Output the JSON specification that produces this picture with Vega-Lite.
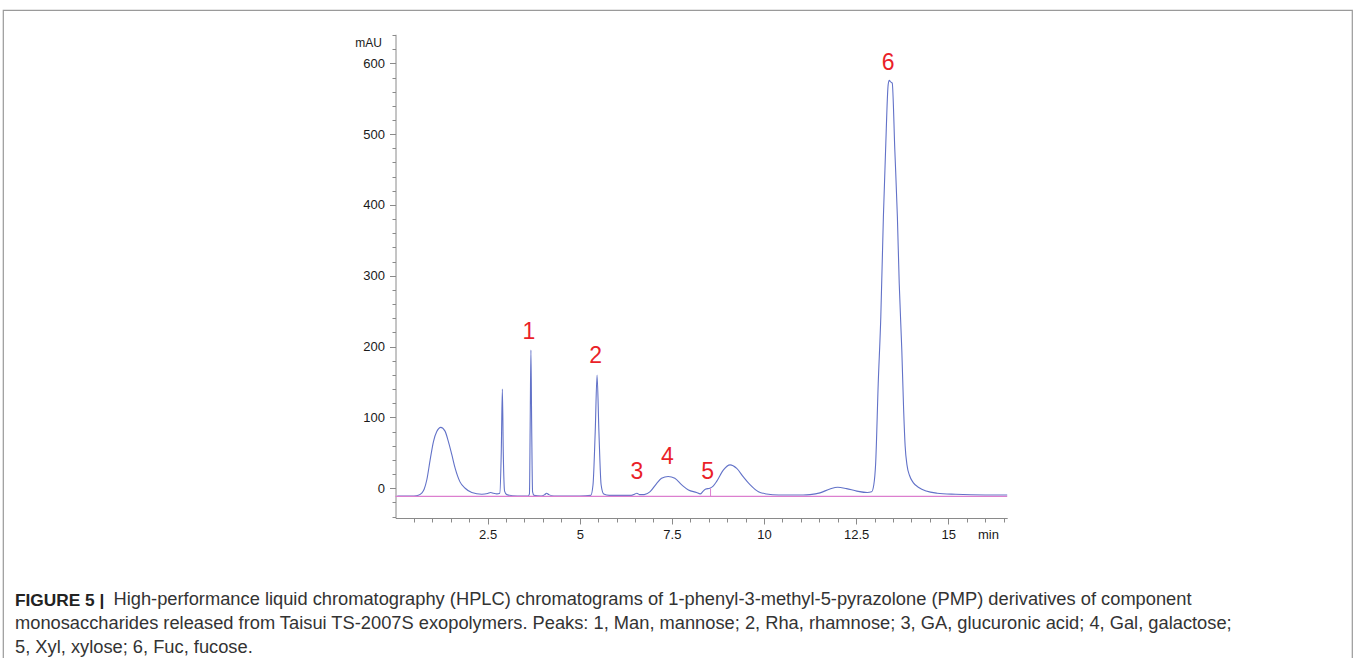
{
  "$schema": "https://vega.github.io/schema/vega-lite/v6.json",
  "width": 1349,
  "height": 700,
  "autosize": {"type": "none"},
  "padding": {"left": 3, "top": 10, "right": 3, "bottom": 0},
  "background": "white",
  "config": {
    "view": {"stroke": "#9a9a9a", "strokeWidth": 1.2},
    "font": "Liberation Sans"
  },
  "title": {
    "text": "FIGURE 5 |",
    "subtitle": [
      "monosaccharides released from Taisui TS-2007S exopolymers. Peaks: 1, Man, mannose; 2, Rha, rhamnose; 3, GA, glucuronic acid; 4, Gal, galactose;",
      "5, Xyl, xylose; 6, Fuc, fucose."
    ],
    "orient": "top",
    "anchor": "start",
    "frame": "group",
    "font": "Liberation Sans",
    "fontSize": 17.3,
    "fontWeight": "bold",
    "color": "#222222",
    "subtitleFont": "Liberation Sans",
    "subtitleFontSize": 18.3,
    "subtitleColor": "#333333",
    "subtitleLineHeight": 23.5,
    "subtitlePadding": 5.5,
    "dx": 12,
    "dy": 650
  },
  "resolve": {"axis": {"x": "independent", "y": "independent"}},
  "layer": [
    {
      "data": {"values": [
        {"t": 0.05, "v": -11}, {"t": 0.5, "v": -11}, {"t": 0.62, "v": -10}, {"t": 0.71, "v": -7},
        {"t": 0.78, "v": -1}, {"t": 0.85, "v": 12}, {"t": 0.94, "v": 40}, {"t": 1.03, "v": 66},
        {"t": 1.12, "v": 80}, {"t": 1.23, "v": 86}, {"t": 1.34, "v": 81}, {"t": 1.43, "v": 67},
        {"t": 1.53, "v": 47}, {"t": 1.62, "v": 28}, {"t": 1.75, "v": 9}, {"t": 1.89, "v": 0},
        {"t": 2.07, "v": -6}, {"t": 2.34, "v": -8.5}, {"t": 2.5, "v": -7.5}, {"t": 2.58, "v": -6},
        {"t": 2.66, "v": -7}, {"t": 2.75, "v": -8}, {"t": 2.83, "v": -7}, {"t": 2.87, "v": 50},
        {"t": 2.9, "v": 140}, {"t": 2.925, "v": 50}, {"t": 2.96, "v": -4}, {"t": 3.02, "v": -9},
        {"t": 3.3, "v": -11}, {"t": 3.6, "v": -11}, {"t": 3.635, "v": -8}, {"t": 3.655, "v": 90},
        {"t": 3.675, "v": 195}, {"t": 3.695, "v": 90}, {"t": 3.72, "v": -5}, {"t": 3.76, "v": -10},
        {"t": 3.95, "v": -11}, {"t": 4.05, "v": -9}, {"t": 4.1, "v": -7}, {"t": 4.16, "v": -9},
        {"t": 4.3, "v": -11}, {"t": 5.0, "v": -11}, {"t": 5.3, "v": -10}, {"t": 5.36, "v": 5},
        {"t": 5.42, "v": 80}, {"t": 5.47, "v": 160}, {"t": 5.52, "v": 80}, {"t": 5.58, "v": 5},
        {"t": 5.65, "v": -8}, {"t": 5.8, "v": -10}, {"t": 6.4, "v": -10}, {"t": 6.5, "v": -8},
        {"t": 6.55, "v": -7}, {"t": 6.62, "v": -9}, {"t": 6.75, "v": -9}, {"t": 6.91, "v": -4.8},
        {"t": 7.09, "v": 7}, {"t": 7.22, "v": 14}, {"t": 7.4, "v": 16.5}, {"t": 7.58, "v": 14},
        {"t": 7.77, "v": 4.7}, {"t": 7.95, "v": -2.4}, {"t": 8.17, "v": -6}, {"t": 8.27, "v": -8},
        {"t": 8.35, "v": -4}, {"t": 8.42, "v": -1}, {"t": 8.53, "v": 0}, {"t": 8.62, "v": 3},
        {"t": 8.72, "v": 10}, {"t": 8.9, "v": 26}, {"t": 9.08, "v": 33}, {"t": 9.26, "v": 28},
        {"t": 9.44, "v": 16}, {"t": 9.62, "v": 5}, {"t": 9.85, "v": -5}, {"t": 10.07, "v": -8},
        {"t": 10.4, "v": -9.5}, {"t": 11.06, "v": -9.5}, {"t": 11.25, "v": -9}, {"t": 11.52, "v": -6.5},
        {"t": 11.79, "v": -1}, {"t": 12.0, "v": 1.5}, {"t": 12.24, "v": -0.5}, {"t": 12.52, "v": -4},
        {"t": 12.8, "v": -6}, {"t": 12.92, "v": -5}, {"t": 12.98, "v": 5}, {"t": 13.03, "v": 35},
        {"t": 13.1, "v": 148}, {"t": 13.17, "v": 242}, {"t": 13.24, "v": 383}, {"t": 13.3, "v": 478},
        {"t": 13.37, "v": 570}, {"t": 13.4, "v": 576}, {"t": 13.43, "v": 574}, {"t": 13.48, "v": 572},
        {"t": 13.55, "v": 478}, {"t": 13.62, "v": 383}, {"t": 13.67, "v": 289}, {"t": 13.74, "v": 195},
        {"t": 13.79, "v": 110}, {"t": 13.83, "v": 60}, {"t": 13.88, "v": 33}, {"t": 13.95, "v": 18},
        {"t": 14.05, "v": 8}, {"t": 14.2, "v": 1}, {"t": 14.4, "v": -4}, {"t": 14.7, "v": -7},
        {"t": 15.2, "v": -8.5}, {"t": 16.0, "v": -9.5}, {"t": 16.6, "v": -9.5}
      ]},
      "mark": {"type": "line", "color": "#6272c8", "strokeWidth": 1.1, "interpolate": "monotone"},
      "encoding": {
        "x": {
          "field": "t", "type": "quantitative",
          "scale": {"domain": [0, 16.6], "range": [392.5, 1004.2], "nice": false, "zero": false},
          "axis": {
            "orient": "bottom", "offset": -192,
            "values": [2.5, 5, 7.5, 10, 12.5, 15],
            "labelExpr": "'' + datum.value",
            "grid": false,
            "domainColor": "#8a8a8a",
            "tickColor": "#8a8a8a",
            "tickSize": 6,
            "labelFont": "Liberation Sans", "labelColor": "#1a1a1a", "labelFontSize": 13,
            "labelPadding": 4, "labelFlush": false, "labelOverlap": false,
            "title": "min", "titleFont": "Liberation Sans", "titleFontSize": 13, "titleFontWeight": "normal",
            "titleColor": "#1a1a1a", "titleX": 985, "titleY": 16, "titleAlign": "center", "titleBaseline": "middle"
          }
        },
        "y": {
          "field": "v", "type": "quantitative",
          "scale": {"domain": [-42, 641], "range": [508, 24.3], "nice": false, "zero": false},
          "axis": {
            "orient": "left", "offset": -392.5,
            "values": [0, 100, 200, 300, 400, 500, 600],
            "labelExpr": "'' + datum.value",
            "grid": false,
            "domainColor": "#8a8a8a",
            "tickColor": "#8a8a8a",
            "tickSize": 6,
            "labelFont": "Liberation Sans", "labelColor": "#1a1a1a", "labelFontSize": 13,
            "labelPadding": 5, "labelOverlap": false, "labelFlush": false,
            "title": "mAU", "titleAngle": 0, "titleFont": "Liberation Sans", "titleFontSize": 12, "titleFontWeight": "normal",
            "titleColor": "#1a1a1a", "titleX": -27.5, "titleY": 32, "titleAlign": "center", "titleBaseline": "middle"
          }
        }
      }
    },
    {
      "data": {"values": [{"t": 0, "v": -11.6}, {"t": 16.6, "v": -11.6}]},
      "mark": {"type": "line", "color": "#dc7fcf", "strokeWidth": 1.2},
      "encoding": {
        "x": {
          "field": "t", "type": "quantitative",
          "scale": {"domain": [0, 16.6], "range": [392.5, 1004.2], "nice": false, "zero": false},
          "axis": {
            "orient": "bottom", "offset": -192,
            "values": [0.5,1,1.5,2,3,3.5,4,4.5,5.5,6,6.5,7,8,8.5,9,9.5,10.5,11,11.5,12,13,13.5,14,14.5,15.5,16,16.5],
            "labels": false, "grid": false, "domain": false,
            "tickColor": "#8a8a8a", "tickSize": 4,
            "title": "High-performance liquid chromatography (HPLC) chromatograms of 1-phenyl-3-methyl-5-pyrazolone (PMP) derivatives of component",
            "titleFont": "Liberation Sans", "titleFontSize": 18.3, "titleFontWeight": "normal", "titleColor": "#333333",
            "titleX": 110, "titleY": 86.5, "titleAlign": "left", "titleBaseline": "alphabetic", "titleAnchor": "start"
          }
        },
        "y": {
          "field": "v", "type": "quantitative",
          "scale": {"domain": [-42, 641], "range": [508, 24.3], "nice": false, "zero": false},
          "axis": {
            "orient": "left", "offset": -392.5,
            "values": [-40,-20,20,40,60,80,120,140,160,180,220,240,260,280,320,340,360,380,420,440,460,480,520,540,560,580,620,640],
            "labels": false, "grid": false, "domain": false,
            "tickColor": "#8a8a8a", "tickSize": 3.5, "title": null
          }
        }
      }
    },
    {
      "data": {"values": [{"t": 8.55, "v": -11.6, "v2": 0}]},
      "mark": {"type": "rule", "color": "#dc7fcf", "strokeWidth": 1},
      "encoding": {
        "x": {"field": "t", "type": "quantitative", "scale": {"domain": [0, 16.6], "range": [392.5, 1004.2], "nice": false, "zero": false}, "axis": null},
        "y": {"field": "v", "type": "quantitative", "scale": {"domain": [-42, 641], "range": [508, 24.3], "nice": false, "zero": false}, "axis": null},
        "y2": {"field": "v2"}
      }
    },
    {
      "data": {"values": [
        {"t": 3.62, "v": 221, "label": "1"},
        {"t": 5.43, "v": 187, "label": "2"},
        {"t": 6.55, "v": 23.4, "label": "3"},
        {"t": 7.38, "v": 44.6, "label": "4"},
        {"t": 8.47, "v": 23.4, "label": "5"},
        {"t": 13.37, "v": 600, "label": "6"}
      ]},
      "mark": {"type": "text", "color": "#ea1f29", "fontSize": 23, "font": "Liberation Sans", "align": "center", "baseline": "middle"},
      "encoding": {
        "x": {"field": "t", "type": "quantitative", "scale": {"domain": [0, 16.6], "range": [392.5, 1004.2], "nice": false, "zero": false}, "axis": null},
        "y": {"field": "v", "type": "quantitative", "scale": {"domain": [-42, 641], "range": [508, 24.3], "nice": false, "zero": false}, "axis": null},
        "text": {"field": "label"}
      }
    }
  ]
}
